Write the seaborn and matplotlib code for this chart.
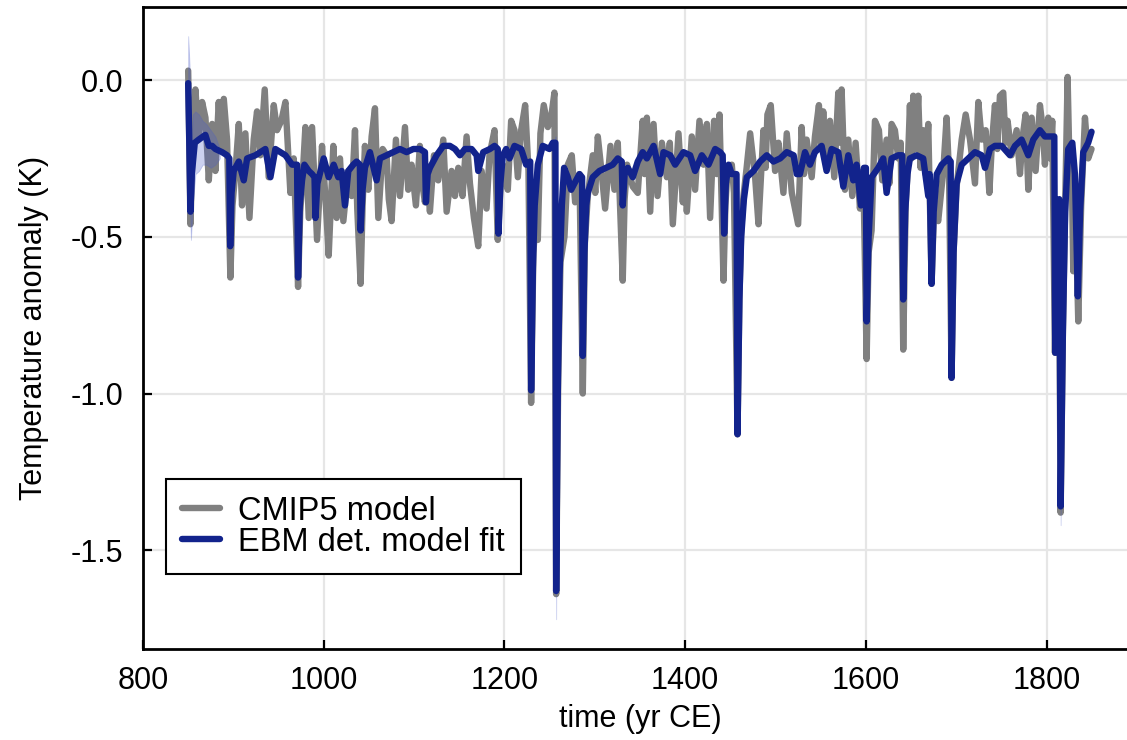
import numpy as np
import pandas as pd
import matplotlib
matplotlib.use("Agg")
import matplotlib.pyplot as plt
import seaborn as sns

# ---------------- data ----------------
cmip_year = [850, 852.5, 855, 858, 861.7, 865.4, 869.1, 872.8, 876.5, 880.1, 883.8, 886.5, 889.4, 893,
             896.7, 899, 902.3, 906, 909.6, 913.3, 917.8, 922.5, 926.2, 929.9, 934.7, 939.1, 944.7, 948.3,
             953.1, 957.6, 963.1, 966.8, 971.6, 974, 976, 979.7, 983.4, 987.1, 992.6, 998.1, 1002, 1005.5,
             1010.6, 1014.3, 1018, 1021.7, 1027.2, 1030.9, 1034.6, 1037.1, 1040.8, 1043, 1045.6, 1049.3,
             1053, 1056.7, 1060.4, 1065.2, 1069.6, 1072, 1075.1, 1079.9, 1084.3, 1089.9, 1093.5, 1097.2,
             1102, 1106.4, 1109, 1112, 1114.5, 1117.5, 1122, 1126.7, 1132.3, 1136, 1141.5, 1145.2, 1148.9,
             1153.6, 1158.1, 1161.8, 1166.2, 1171, 1174.7, 1180.2, 1183.4, 1189, 1192.6, 1195.5, 1198.2,
             1203.7, 1207.4, 1211.1, 1214.8, 1218.5, 1222.9, 1226.6, 1229.5, 1232, 1234.5, 1236.9, 1239.8,
             1243.5, 1248, 1251.6, 1255.3, 1257.2, 1259.5, 1262, 1266.4, 1270.1, 1274.5, 1278.2, 1283,
             1286.7, 1289, 1292.2, 1297.7, 1300.5, 1303.3, 1307, 1311.4, 1317.3, 1321.7, 1325.4, 1330.9,
             1333, 1335.7, 1342, 1347.5, 1353, 1355, 1357.6, 1361.3, 1365, 1369.4, 1374.2, 1379.7, 1383,
             1386.3, 1392.6, 1397.4, 1399.5, 1401.8, 1407.3, 1411, 1415.8, 1420.3, 1424, 1427.6, 1432, 1435,
             1438, 1442.4, 1444.5, 1446.8, 1451.6, 1454, 1457.9, 1460, 1462, 1464.5, 1468, 1471.9, 1477.4,
             1481.1, 1486.6, 1489, 1491, 1494.7, 1499.5, 1503.2, 1508.7, 1512.4, 1518, 1525, 1528.9, 1531.5,
             1534.4, 1540, 1543.6, 1548, 1550.5, 1552.8, 1556.5, 1560.2, 1565, 1569.4, 1571, 1573.1, 1576.8,
             1580.5, 1584.9, 1588.6, 1593.4, 1597.1, 1600.8, 1603, 1606.3, 1610, 1614.4, 1618.1, 1622.9,
             1626, 1628.4, 1632.1, 1635.8, 1638.5, 1641.3, 1644, 1646, 1648.7, 1650.5, 1652.4, 1655, 1657.9,
             1660.5, 1663.4, 1666, 1669, 1672.7, 1675.5, 1680, 1685.6, 1689.3, 1692, 1694.8, 1697, 1700.4,
             1706, 1710.4, 1715.2, 1720.7, 1724.4, 1728.1, 1732.5, 1736.6, 1739.5, 1742.8, 1745.5, 1748.3,
             1752, 1754.5, 1756.8, 1761.2, 1766.8, 1770.5, 1773.5, 1776.7, 1779.7, 1783.4, 1787.8, 1792.6,
             1795.5, 1798.1, 1801.8, 1804, 1806.2, 1809.2, 1811.5, 1813.5, 1815.5, 1818, 1820.5, 1823.2,
             1825.5, 1827.6, 1829.5, 1831.5, 1835, 1838.2, 1842.4, 1846, 1849.7]
cmip_temp = [0.03, -0.46, -0.20, -0.03, -0.19, -0.07, -0.12, -0.32, -0.14, -0.29, -0.07, -0.22, -0.06, -0.19,
             -0.63, -0.40, -0.29, -0.14, -0.40, -0.17, -0.44, -0.19, -0.10, -0.24, -0.03, -0.31, -0.08, -0.16,
             -0.13, -0.07, -0.36, -0.25, -0.66, -0.42, -0.34, -0.15, -0.44, -0.15, -0.51, -0.21, -0.38, -0.56,
             -0.21, -0.44, -0.25, -0.45, -0.29, -0.37, -0.16, -0.41, -0.65, -0.40, -0.21, -0.35,
             -0.18, -0.09, -0.44, -0.22, -0.24, -0.38, -0.45, -0.19, -0.37, -0.15, -0.35, -0.27,
             -0.40, -0.21, -0.33, -0.39, -0.30, -0.42, -0.24, -0.32, -0.19, -0.42, -0.29, -0.37, -0.28,
             -0.37, -0.18, -0.33, -0.44, -0.53, -0.29, -0.41, -0.24, -0.16, -0.51, -0.35, -0.27,
             -0.35, -0.13, -0.16, -0.31, -0.16, -0.08, -0.29, -1.03, -0.55, -0.45, -0.51, -0.17,
             -0.08, -0.15, -0.12, -0.04, -1.64, -0.95, -0.58, -0.50, -0.27, -0.24, -0.39, -0.30,
             -1.00, -0.52, -0.37, -0.24, -0.36, -0.18, -0.28, -0.41, -0.21, -0.35, -0.20, -0.64,
             -0.38, -0.27, -0.34, -0.36, -0.13, -0.30, -0.12, -0.42, -0.14, -0.37, -0.20, -0.31, -0.20,
             -0.46, -0.17, -0.39, -0.25, -0.42, -0.18, -0.35, -0.13, -0.27, -0.14, -0.44, -0.13, -0.30,
             -0.11, -0.64, -0.40, -0.29, -0.27, -0.36, -1.13, -0.70, -0.48, -0.37, -0.28, -0.17, -0.31,
             -0.46, -0.16, -0.28, -0.11, -0.08, -0.29, -0.20, -0.36, -0.17, -0.36, -0.46, -0.15, -0.30,
             -0.19, -0.31, -0.18, -0.08, -0.22, -0.10, -0.28, -0.13, -0.31, -0.04, -0.20, -0.03, -0.35,
             -0.19, -0.37, -0.20, -0.41, -0.29, -0.89, -0.55, -0.48, -0.13, -0.16, -0.32, -0.19,
             -0.33, -0.14, -0.16, -0.25, -0.20, -0.86, -0.40, -0.30, -0.08, -0.25, -0.05, -0.22, -0.05,
             -0.28, -0.16, -0.30, -0.14, -0.65, -0.40, -0.45, -0.29, -0.12, -0.30, -0.95, -0.55, -0.34,
             -0.19, -0.11, -0.19, -0.33, -0.07, -0.19, -0.16, -0.36, -0.20, -0.08, -0.22, -0.05,
             -0.04, -0.20, -0.13, -0.24, -0.16, -0.30, -0.18, -0.11, -0.35, -0.12, -0.29, -0.08,
             -0.15, -0.27, -0.12, -0.25, -0.13, -0.87, -0.45, -0.40, -1.38, -0.80, -0.40, 0.01,
             -0.30, -0.25, -0.61, -0.35, -0.77, -0.40, -0.12, -0.25, -0.22]

fit_year = [850, 851, 852.5, 854, 857.3, 861.7, 869, 872.8, 876.5, 880.1, 887.5, 893, 895.5, 896.5, 898,
            900.4, 906, 911.5, 915.2, 924.4, 935.4, 941, 946.5, 957.6, 965, 970.5, 971.6, 973.5, 976, 978.6,
            983.4, 987.1, 989.8, 990.8, 993, 1000, 1005.5, 1011, 1016.1, 1019.8, 1023.5, 1027.2, 1032.7,
            1036.4, 1040, 1040.8, 1043, 1045.6, 1051.1, 1058.5, 1062.2, 1069.6, 1077, 1084.3, 1091.7,
            1099.1, 1106.4, 1112, 1113.1, 1115, 1117.5, 1124.9, 1132.3, 1139.6, 1145.2, 1150.7, 1156.2,
            1163.6, 1169.2, 1171, 1176.5, 1183.9, 1189, 1192.6, 1193.4, 1195.5, 1198.2, 1201.9, 1205.6,
            1211.1, 1218.5, 1224, 1228.5, 1229.5, 1231.5, 1233.5, 1236.9, 1242.4, 1249.8, 1253.5, 1256.4,
            1257.2, 1259, 1261, 1263.5, 1266, 1270.1, 1273.8, 1277.4, 1283, 1285.9, 1286.7, 1288.5, 1290.5,
            1292.2, 1297.7, 1305.1, 1312.5, 1319.8, 1325.4, 1329.8, 1330.9, 1333, 1336.5, 1342, 1347.5,
            1353, 1357.6, 1365, 1372.3, 1376, 1383.4, 1388.9, 1398.1, 1405.5, 1411, 1418.4, 1425.8, 1433.2,
            1438.7, 1441.5, 1443.1, 1445, 1448, 1451.6, 1456.8, 1457.9, 1460, 1462, 1465, 1468.2, 1475.6,
            1482.9, 1490.3, 1497.7, 1505.1, 1512.4, 1520, 1523.5, 1527, 1532.6, 1538.1, 1543.6, 1551,
            1556.5, 1562.1, 1569.4, 1575, 1580.5, 1586, 1589.7, 1594.5, 1597.8, 1600, 1600.8, 1603, 1606.3,
            1613.7, 1619.2, 1622.9, 1628.4, 1635.8, 1640.2, 1641.3, 1643.5, 1646, 1648.7, 1656.1, 1663.4,
            1669, 1670.5, 1672.7, 1675, 1678.4, 1683.9, 1691.2, 1693.8, 1694.8, 1697, 1700.4, 1706, 1713.3,
            1720.7, 1728.1, 1731.8, 1737.3, 1742.8, 1750.2, 1759.4, 1765, 1772.3, 1779.7, 1785.2, 1792.6,
            1798.1, 1805.5, 1808.5, 1809.5, 1811.5, 1814, 1815.5, 1818, 1820.5, 1823.9, 1828.4, 1831.3,
            1834.5, 1837, 1840.5, 1846, 1849.7]
fit_temp = [-0.01, -0.16, -0.42, -0.30, -0.20, -0.19, -0.175, -0.21, -0.21, -0.22, -0.23, -0.24, -0.25, -0.53, -0.36,
            -0.29, -0.26, -0.32, -0.25, -0.24, -0.22, -0.31, -0.22, -0.24, -0.27, -0.27, -0.63, -0.40, -0.32, -0.27,
            -0.29, -0.30, -0.31, -0.44, -0.33, -0.25, -0.31, -0.27, -0.31, -0.29, -0.40, -0.29, -0.27,
            -0.26, -0.27, -0.48, -0.35, -0.28, -0.23, -0.32, -0.25, -0.24, -0.23, -0.22, -0.23,
            -0.22, -0.22, -0.23, -0.39, -0.30, -0.28, -0.24, -0.21, -0.21, -0.22, -0.24, -0.22,
            -0.22, -0.24, -0.29, -0.23, -0.22, -0.21, -0.22, -0.49, -0.33, -0.24, -0.22, -0.25,
            -0.21, -0.22, -0.27, -0.26, -0.99, -0.60, -0.40, -0.27, -0.21, -0.22, -0.20, -0.20,
            -1.63, -1.00, -0.62, -0.40, -0.28, -0.31, -0.35, -0.33, -0.30, -0.31, -0.88, -0.55, -0.40,
            -0.36, -0.31, -0.29, -0.28, -0.27, -0.25, -0.26, -0.40, -0.30, -0.28, -0.31, -0.26,
            -0.23, -0.25, -0.21, -0.30, -0.23, -0.24, -0.27, -0.23, -0.24, -0.29, -0.24, -0.27, -0.22,
            -0.23, -0.24, -0.49, -0.33, -0.27, -0.30, -0.30, -1.13, -0.70, -0.50, -0.38, -0.31, -0.29,
            -0.26, -0.24, -0.26, -0.25, -0.23, -0.24, -0.30, -0.30, -0.23, -0.27, -0.23, -0.21,
            -0.29, -0.22, -0.23, -0.34, -0.24, -0.32, -0.27, -0.40, -0.28, -0.28, -0.77, -0.50, -0.31,
            -0.28, -0.25, -0.36, -0.25, -0.24, -0.24, -0.70, -0.42, -0.30, -0.25, -0.24, -0.25,
            -0.37, -0.30, -0.65, -0.42, -0.30, -0.27, -0.25, -0.26, -0.95, -0.55, -0.33, -0.27, -0.25,
            -0.23, -0.24, -0.28, -0.22, -0.21, -0.21, -0.24, -0.21, -0.19, -0.24, -0.19, -0.16,
            -0.18, -0.18, -0.18, -0.87, -0.45, -0.38, -1.36, -0.80, -0.42, -0.22, -0.20, -0.30,
            -0.69, -0.42, -0.23, -0.20, -0.165]

# uncertainty ribbon of the fit, visible only where it sticks out of the thick line
ribbon_start_year = [850, 851.5, 853, 855, 858, 862, 866, 870, 875, 880, 885]
ribbon_start_hi = [0.14, 0.05, -0.30, -0.11, -0.10, -0.11, -0.13, -0.14, -0.16, -0.18, -0.22]
ribbon_start_lo = [-0.05, -0.35, -0.51, -0.40, -0.30, -0.29, -0.27, -0.27, -0.28, -0.27, -0.25]
ribbon_samalas_year = [1256.4, 1257.2, 1258.2]
ribbon_samalas_hi = [-0.18, -1.55, -0.90]
ribbon_samalas_lo = [-0.22, -1.72, -1.10]
ribbon_tambora_year = [1815.0, 1815.5, 1816.5]
ribbon_tambora_hi = [-0.70, -1.30, -0.85]
ribbon_tambora_lo = [-0.80, -1.42, -1.00]

x_ticks = [800, 1000, 1200, 1400, 1600, 1800]
y_ticks = [0.0, -0.5, -1.0, -1.5]
series_labels = ["CMIP5 model", "EBM det. model fit"]
x_label = "time (yr CE)"
y_label = "Temperature anomaly (K)"

# ---------------- style ----------------
sns.set_theme(style="white")
plt.rcParams['font.family'] = ['Liberation Sans', 'DejaVu Sans']
plt.rcParams['axes.unicode_minus'] = False
plt.rcParams['text.color'] = 'black'

GRAY = "#808080"
NAVY = "#12238c"
FS = 22
LW = 4.6

fig = plt.figure(figsize=(11.27, 7.40), dpi=100)
ax = fig.add_axes([0.12689, 0.12297, 0.88198, 0.86757])

df_c = pd.DataFrame({"time": cmip_year, "temp": cmip_temp})
df_f = pd.DataFrame({"time": fit_year, "temp": fit_temp})

sns.lineplot(data=df_c, x="time", y="temp", ax=ax, color=GRAY, lw=LW,
             estimator=None, sort=False, label=series_labels[0], zorder=2)
for yrs, lo, hi in [(ribbon_start_year, ribbon_start_lo, ribbon_start_hi),
                    (ribbon_samalas_year, ribbon_samalas_lo, ribbon_samalas_hi),
                    (ribbon_tambora_year, ribbon_tambora_lo, ribbon_tambora_hi)]:
    ax.fill_between(yrs, lo, hi, color="#4a5cc8", alpha=0.28, lw=0.6, zorder=3)
sns.lineplot(data=df_f, x="time", y="temp", ax=ax, color=NAVY, lw=LW,
             estimator=None, sort=False, label=series_labels[1], zorder=4)

ax.set_xlim(800, 1900)
ax.set_ylim(-1.815, 0.233)
ax.set_xticks(x_ticks)
ax.set_xticklabels([str(t) for t in x_ticks])
ax.set_yticks(y_ticks)
ax.set_yticklabels(["%.1f" % t for t in y_ticks])

ax.grid(True, color="#e6e6e6", lw=1.6)
ax.set_axisbelow(True)
for s in ax.spines.values():
    s.set_color("black")
    s.set_linewidth(2.0)

ax.tick_params(axis="both", direction="in", length=6.5, width=1.6, colors="black",
               labelcolor="black", labelsize=FS, left=True, bottom=True)
ax.tick_params(axis="x", pad=12)
ax.tick_params(axis="y", pad=14)

ax.set_xlabel(x_label, fontsize=FS, color="black", labelpad=6)
ax.set_ylabel(y_label, fontsize=FS, color="black", labelpad=16)

leg = ax.legend(loc="lower left", bbox_to_anchor=(0.0231, 0.117), borderaxespad=0,
                fontsize=23.5, frameon=True, fancybox=False, edgecolor="black",
                handlelength=1.15, handletextpad=0.55, borderpad=0.5, labelspacing=0.0)
leg.get_frame().set_linewidth(1.5)
leg.get_frame().set_facecolor("white")
leg.get_frame().set_alpha(1.0)
for t in leg.get_texts():
    t.set_color("black")
for h in leg.get_lines():
    h.set_linewidth(LW)

fig.savefig("out.png", dpi=100)
